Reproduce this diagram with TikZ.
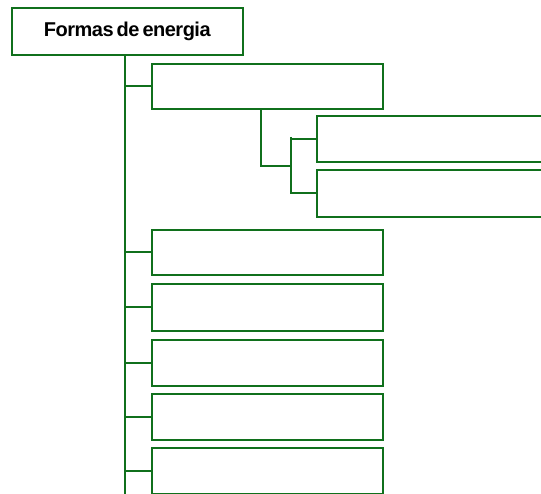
\documentclass[tikz,border=0pt]{standalone}
\usepackage{fontspec}
\setmainfont{Liberation Sans}
\newfontfamily\titlefont[LetterSpace=-2.5]{Liberation Sans}
\newcommand\titlestyle{\titlefont\fontsize{20}{22}\selectfont\bfseries\spaceskip=3pt\relax}
\begin{document}
\begin{tikzpicture}[
    x=1pt, y=-1pt,
    link/.style={draw=formgreen, line width=1.6pt},
    formbox/.style={rectangle, draw=formgreen, line width=1.6pt, fill=white, minimum width=231pt, minimum height=46pt, inner sep=0pt, anchor=north west},
    titlebox/.style={formbox, minimum height=47pt, font=\titlestyle}
  ]
    \definecolor{formgreen}{RGB}{16,112,28}
    \useasboundingbox (0,0) rectangle (541,494);
    \clip (0,0) rectangle (541,494);

    % Title
    \node[titlebox] (title) at (11,7) {Formas de energia};

    % Boxes on the trunk
    \node[formbox, minimum height=45pt] (b1) at (151,63) {};
    \node[formbox, minimum height=45pt] (b2) at (151,229) {};
    \node[formbox, minimum height=47pt] (b3) at (151,283) {};
    \node[formbox] (b4) at (151,339) {};
    \node[formbox] (b5) at (151,393) {};
    \node[formbox] (b6) at (151,447) {};

    % Sub boxes
    \node[formbox, minimum height=46pt, minimum width=260pt] (s1) at (316,115) {};
    \node[formbox, minimum height=47pt, minimum width=260pt] (s2) at (316,169) {};

    % Trunk
    \coordinate (trunkend) at (125,500);
    \draw[link] (title.south -| trunkend) -- (trunkend);
    \foreach \b in {b1,b2,b3,b4,b5,b6}
      \draw[link] (\b.west -| trunkend) -- (\b.west);

    % Sub branch
    \coordinate (fork) at (261,166);
    \coordinate (subtop) at (291,137);
    \draw[link] (b1.south -| fork) -- (fork) -- (fork -| subtop);
    \draw[link] (subtop) -- (subtop |- s2.west) -- (s2.west);
    \draw[link] (subtop |- s1.west) -- (s1.west);
  \end{tikzpicture}
\end{document}
